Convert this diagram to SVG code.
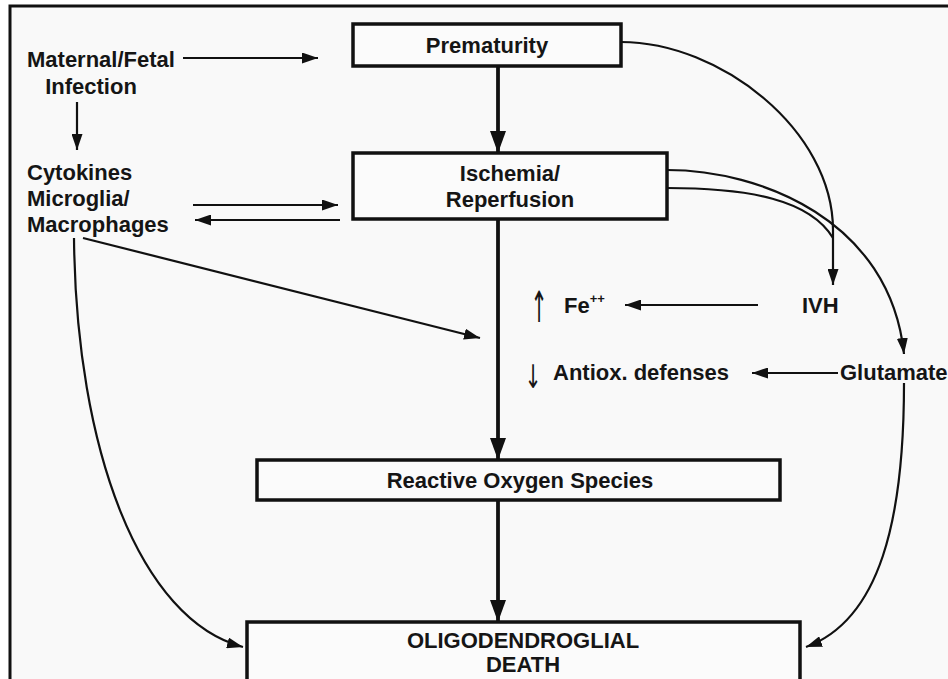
<svg xmlns="http://www.w3.org/2000/svg" width="948" height="679" viewBox="0 0 948 679">
  <defs>
    <marker id="ah" viewBox="0 0 10 10" refX="10" refY="5" markerUnits="userSpaceOnUse" markerWidth="16" markerHeight="11" orient="auto" preserveAspectRatio="none">
      <path d="M0,0 L10,5 L0,10 z" fill="#111"/>
    </marker>
    <marker id="ahb" viewBox="0 0 10 10" refX="10" refY="5" markerUnits="userSpaceOnUse" markerWidth="22" markerHeight="16" orient="auto" preserveAspectRatio="none">
      <path d="M0,0 L10,5 L0,10 z" fill="#111"/>
    </marker>
  </defs>
  <style>
    .box { fill: #fbfbfb; stroke: #111; stroke-width: 3.5; }
    .t { font-family: "Liberation Sans", Arial, sans-serif; font-weight: bold; font-size: 22px; fill: #151515; }
    .c { text-anchor: middle; }
    .ln { fill: none; stroke: #111; stroke-width: 2.2; marker-end: url(#ah); }
    .thick { fill: none; stroke: #111; stroke-width: 3.8; marker-end: url(#ahb); }
    .plain { fill: none; stroke: #111; stroke-width: 2.2; }
    .sym { font-family: "DejaVu Sans", sans-serif; font-size: 24px; fill: #151515; text-anchor: middle; }
  </style>

  <rect x="0" y="0" width="948" height="679" fill="#ffffff"/>
  <rect x="10" y="6" width="938" height="673" fill="#f9f9f9"/>
  <path d="M10,679 V6 H948" fill="none" stroke="#111" stroke-width="3"/>

  <g id="connectors">
    <path class="ln" d="M183,58 H318"/>
    <path class="ln" d="M77,102 V150"/>
    <path class="ln" d="M193,205 H338"/>
    <path class="ln" d="M340,220 H195"/>
    <path class="ln" d="M83,238 L480,338"/>
    <path class="ln" d="M74,238 C76,450 140,620 243,647"/>
    <path class="thick" d="M498,66 V153"/>
    <path class="thick" d="M498,219 V460"/>
    <path class="thick" d="M498,500 V622"/>
    <path class="ln" d="M621,42 C720,42 833,130 833,230 V285"/>
    <path class="ln" d="M667,170 C760,170 890,220 904,354"/>
    <path class="plain" d="M667,188 C750,188 810,200 833,238"/>
    <path class="ln" d="M758,305 H625"/>
    <path class="ln" d="M838,373 H752"/>
    <path class="ln" d="M904,383 C904,520 880,620 806,647"/>
  </g>

  <g id="maternal">
    <text class="t" x="27" y="67">Maternal/Fetal</text>
    <text class="t c" x="91" y="94">Infection</text>
  </g>
  <g id="cytokines">
    <text class="t" x="27" y="180">Cytokines</text>
    <text class="t" x="27" y="206">Microglia/</text>
    <text class="t" x="27" y="232">Macrophages</text>
  </g>
  <g id="prematurity">
    <rect class="box" x="353" y="24" width="268" height="42"/>
    <text class="t c" x="487" y="53">Prematurity</text>
  </g>
  <g id="ischemia">
    <rect class="box" x="353" y="153" width="314" height="66"/>
    <text class="t c" x="510" y="181">Ischemia/</text>
    <text class="t c" x="510" y="207">Reperfusion</text>
  </g>
  <g id="fe">
    <text class="sym" transform="translate(539,322) scale(0.85,1.8)" x="0" y="0">↑</text>
    <text class="t" x="564" y="313">Fe<tspan font-size="13" dy="-10">++</tspan></text>
  </g>
  <g id="antiox">
    <text class="sym" transform="translate(533,388) scale(0.85,1.35)" x="0" y="0">↓</text>
    <text class="t" x="553" y="380">Antiox. defenses</text>
  </g>
  <g id="ivh">
    <text class="t" x="802" y="313">IVH</text>
  </g>
  <g id="glutamate">
    <text class="t" x="840" y="380">Glutamate</text>
  </g>
  <g id="ros">
    <rect class="box" x="257" y="460" width="523" height="40"/>
    <text class="t c" x="520" y="488">Reactive Oxygen Species</text>
  </g>
  <g id="oligo">
    <rect class="box" x="247" y="622" width="553" height="80"/>
    <text class="t c" x="523" y="648">OLIGODENDROGLIAL</text>
    <text class="t c" x="523" y="672">DEATH</text>
  </g>
</svg>
